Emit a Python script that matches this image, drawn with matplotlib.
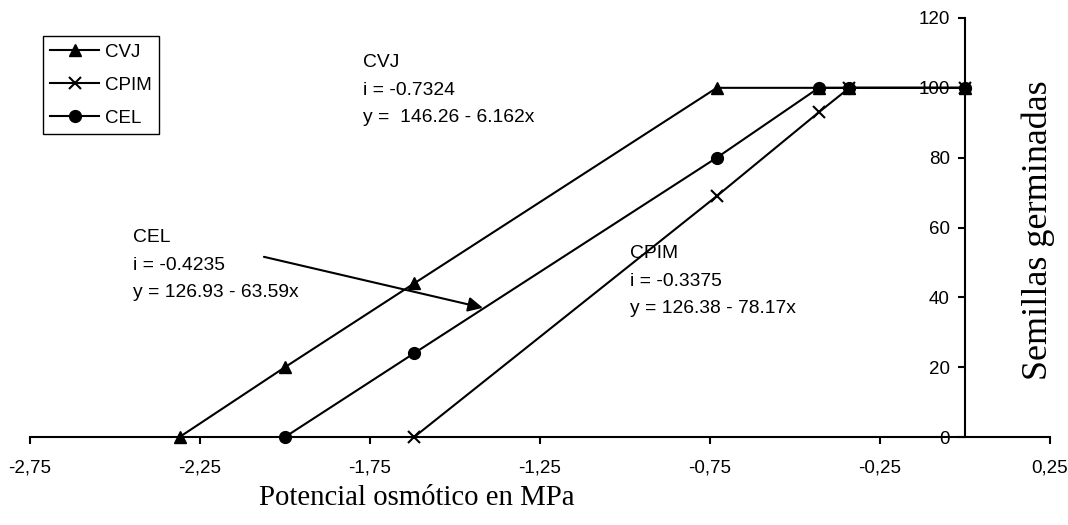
import matplotlib
matplotlib.use("Agg")
import matplotlib.pyplot as plt

# potencial osmótico (MPa) y semillas germinadas
cvj_x = [-2.31, -2.0, -1.62, -0.73, -0.43, -0.34, 0.0]
cvj_y = [0, 20, 44, 100, 100, 100, 100]
cpim_x = [-1.62, -0.73, -0.43, -0.34, 0.0]
cpim_y = [0, 69, 93, 100, 100]
cel_x = [-2.0, -1.62, -0.73, -0.43, -0.34, 0.0]
cel_y = [0, 24, 80, 100, 100, 100]

xticks = [-2.75, -2.25, -1.75, -1.25, -0.75, -0.25, 0.25]
xticklabels = ["-2,75", "-2,25", "-1,75", "-1,25", "-0,75", "-0,25", "0,25"]
yticks = [0, 20, 40, 60, 80, 100, 120]

# bloques de texto: (x, y de la línea central, líneas)
notes = [
    (-1.771, 99.3, ["CVJ", "i = -0.7324", "y =  146.26 - 6.162x"]),
    (-2.447, 49.2, ["CEL", "i = -0.4235", "y = 126.93 - 63.59x"]),
    (-0.985, 44.6, ["CPIM", "i = -0.3375", "y = 126.38 - 78.17x"]),
]

sans = "Liberation Sans"
serif = "Liberation Serif"

fig = plt.figure(figsize=(10.68, 5.25), dpi=100)
ax = fig.add_axes([30 / 1068, 88 / 525, 1020 / 1068, 419 / 525])

style = dict(color="black", lw=1.5, zorder=3, clip_on=False)
ax.plot(cvj_x, cvj_y, marker="^", ms=9, label="CVJ", **style)
ax.plot(cpim_x, cpim_y, marker="x", ms=8, mew=1.5, label="CPIM", **style)
ax.plot(cel_x, cel_y, marker="o", ms=8.5, label="CEL", **style)

ax.set_xlim(-2.75, 0.25)
ax.set_ylim(0, 120)
ax.spines["left"].set_position(("data", 0))
ax.spines["bottom"].set_position(("data", 0))
ax.spines["top"].set_visible(False)
ax.spines["right"].set_visible(False)
for s in ("left", "bottom"):
    ax.spines[s].set_linewidth(1.5)

ax.set_xticks(xticks)
ax.set_xticklabels(xticklabels, fontfamily=sans, fontsize=13.5)
ax.set_yticks(yticks)
ax.set_yticklabels([str(v) for v in yticks], fontfamily=sans, fontsize=13.5)
ax.tick_params(axis="x", direction="out", length=5, width=1.5, pad=11)
ax.tick_params(axis="y", direction="out", length=5, width=1.5, pad=6)

ax.set_xlabel("Potencial osmótico en MPa", fontfamily=serif, fontsize=20.7)
ax.xaxis.set_label_coords(0.379, -0.145)
ax.xaxis.label.set_va("center")
ax.set_ylabel("Semillas germinadas", fontfamily=serif, fontsize=26)
ax.yaxis.set_label_coords(0.997, 0.494)
ax.yaxis.label.set_va("baseline")

step = 7.9  # separación entre líneas, en unidades de y
for x0, y0, lines in notes:
    for k, line in enumerate(lines):
        ax.text(x0, y0 + (1 - k) * step, line, fontfamily=sans, fontsize=13.9,
                va="center", ha="left")

ax.annotate("", xy=(-1.418, 37.0), xytext=(-2.062, 51.6),
            arrowprops=dict(arrowstyle="-|>", color="black", lw=1.5,
                            mutation_scale=22, shrinkA=0, shrinkB=0))

leg = ax.legend(loc="upper left", bbox_to_anchor=(0.0127, 0.957), borderaxespad=0,
                prop={"family": sans, "size": 13.5}, fancybox=False, framealpha=1,
                edgecolor="black", handlelength=2.6, handletextpad=0.3,
                labelspacing=0.85, borderpad=0.4)
leg.get_frame().set_linewidth(1.0)

fig.savefig("out.png", dpi=100)
